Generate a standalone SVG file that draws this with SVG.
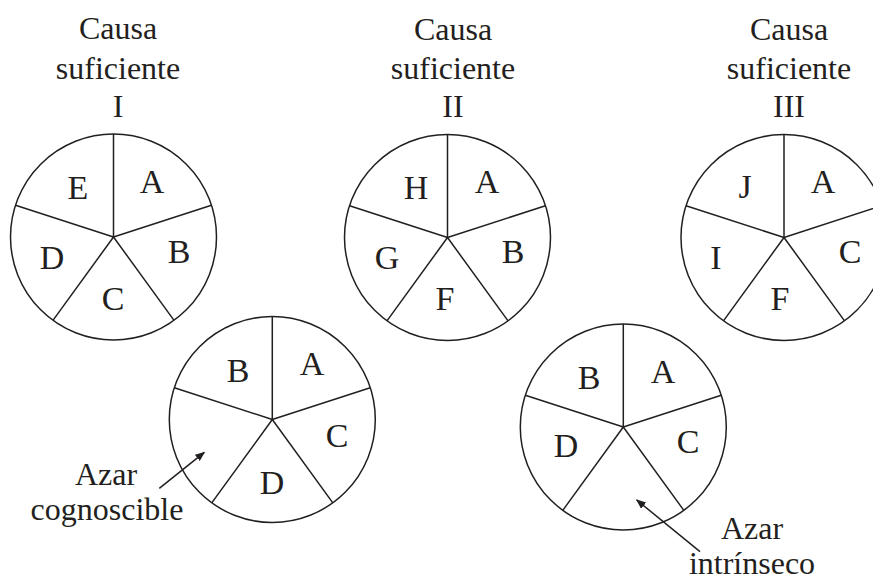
<svg xmlns="http://www.w3.org/2000/svg" xmlns:xlink="http://www.w3.org/1999/xlink" width="873" height="581" viewBox="0 0 873 581">
<style>
text{font-family:"Liberation Serif","Times New Roman",serif;font-size:32px;fill:#231f20;text-anchor:middle}
.l{font-size:34px}
.pie{fill:none;stroke:#231f20;stroke-width:1.5}
.arr{stroke:#231f20;stroke-width:1.5;fill:none}
</style>
<defs>
<g id="pie" class="pie">
<circle cx="0" cy="0" r="103"/>
<path d="M0,0V-103M0,0L97.96,-31.83M0,0L60.54,83.33M0,0L-60.54,83.33M0,0L-97.96,-31.83"/>
</g>
<marker id="ah" markerWidth="10" markerHeight="8" refX="9" refY="4" orient="auto" markerUnits="userSpaceOnUse">
<path d="M0,0L10,4L0,8Z" fill="#231f20"/>
</marker>
</defs>
<rect width="873" height="581" fill="#fff"/>
<g id="cause1">
<text x="118" y="39">Causa</text>
<text x="118" y="79">suficiente</text>
<text x="118" y="117">I</text>
<use xlink:href="#pie" x="113.5" y="237"/>
<text class="l" x="152" y="193">A</text>
<text class="l" x="78" y="199">E</text>
<text class="l" x="179" y="263">B</text>
<text class="l" x="52" y="269">D</text>
<text class="l" x="113" y="310">C</text>
</g>
<g id="cause2">
<text x="453" y="40">Causa</text>
<text x="453" y="79">suficiente</text>
<text x="453" y="117">II</text>
<use xlink:href="#pie" x="447.5" y="237.5"/>
<text class="l" x="487" y="193">A</text>
<text class="l" x="416" y="199">H</text>
<text class="l" x="513" y="263">B</text>
<text class="l" x="387" y="269">G</text>
<text class="l" x="445" y="310">F</text>
</g>
<g id="cause3">
<text x="789" y="40">Causa</text>
<text x="789" y="79">suficiente</text>
<text x="789" y="117">III</text>
<use xlink:href="#pie" x="784" y="237.5"/>
<text class="l" x="823" y="193">A</text>
<text class="l" x="745" y="198">J</text>
<text class="l" x="850" y="263">C</text>
<text class="l" x="716" y="269">I</text>
<text class="l" x="780" y="310">F</text>
</g>
<g id="cognoscible">
<use xlink:href="#pie" x="272.3" y="419.5"/>
<text class="l" x="312" y="375">A</text>
<text class="l" x="238" y="382">B</text>
<text class="l" x="337" y="447">C</text>
<text class="l" x="272" y="494">D</text>
<text x="106" y="485">Azar</text>
<text x="107" y="520">cognoscible</text>
</g>
<g id="intrinseco">
<use xlink:href="#pie" x="623.3" y="427"/>
<text class="l" x="663" y="383">A</text>
<text class="l" x="589" y="389">B</text>
<text class="l" x="688" y="453">C</text>
<text class="l" x="566" y="457">D</text>
<text x="752" y="539">Azar</text>
<text x="752" y="574">intrínseco</text>
</g>
<g id="connectors">
<line class="arr" x1="159.3" y1="488.3" x2="204.3" y2="452.3" marker-end="url(#ah)"/>
<line class="arr" x1="700" y1="551.7" x2="636.7" y2="500" marker-end="url(#ah)"/>
</g>
</svg>
